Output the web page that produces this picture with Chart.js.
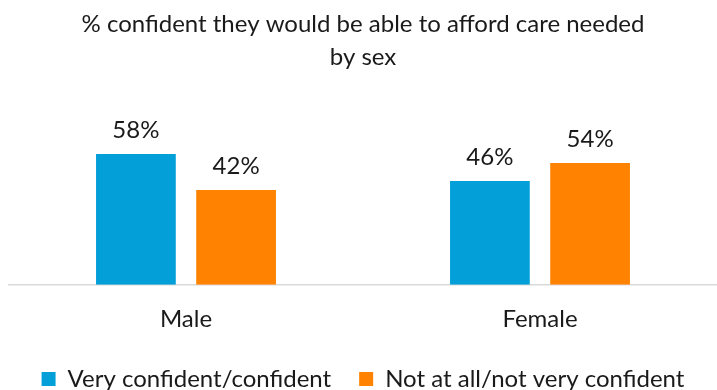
<!DOCTYPE html>
<html>
<head>
<meta charset="utf-8">
<script src="https://cdn.jsdelivr.net/npm/chart.js@4/dist/chart.umd.min.js"></script>
<style>
	html, body { margin: 0; padding: 0; background: #fff; }
	#wrap { width: 717px; height: 390px; }
</style>
</head>
<body>
<div id="wrap"><canvas id="sexChart" width="717" height="390"></canvas></div>
<script>
// survey results by sex
const categories = ["Male", "Female"];
const confident = [58, 46];
const notConfident = [42, 54];
const seriesNames = ["Very confident/confident", "Not at all/not very confident"];
const titleLines = ["% confident they would be able to afford care needed", "by sex"];

const FONT = "Lato";
const SIZE = 24;

// draws the value above each bar
const valueLabels = {
	id: "valueLabels",
	afterDatasetsDraw(chart) {
		const ctx = chart.ctx;
		ctx.save();
		ctx.font = SIZE + "px " + FONT;
		ctx.fillStyle = "#1a1a1a";
		ctx.textAlign = "center";
		ctx.textBaseline = "middle";
		chart.data.datasets.forEach((ds, i) => {
			chart.getDatasetMeta(i).data.forEach((bar, j) => {
				ctx.fillText(ds.data[j] + "%", bar.x, bar.y - 24);
			});
		});
		ctx.restore();
	},
};

var ctx = document.getElementById("sexChart").getContext("2d");
var myChart = new Chart(ctx, {
	type: "bar",
	data: {
		labels: categories,
		datasets: [
			{
				label: seriesNames[0],
				data: confident,
				backgroundColor: "#039fd9",
				categoryPercentage: 0.566,
				barPercentage: 0.796,
			},
			{
				label: seriesNames[1],
				data: notConfident,
				backgroundColor: "#ff8300",
				categoryPercentage: 0.566,
				barPercentage: 0.796,
			},
		],
	},
	options: {
		responsive: false,
		animation: false,
		layout: { padding: { left: 9, right: 0, top: 0, bottom: -11 } },
		plugins: {
			title: {
				display: true,
				text: titleLines,
				color: "#1a1a1a",
				font: { family: FONT, size: SIZE, weight: "normal", lineHeight: 1.375 },
				padding: { top: 7.5, bottom: 53.5 },
			},
			legend: {
				position: "bottom",
				labels: {
					color: "#1a1a1a",
					font: { family: FONT, size: SIZE },
					boxWidth: 14,
					boxHeight: 14,
					padding: 28,
				},
			},
			tooltip: { enabled: false },
		},
		scales: {
			x: {
				grid: { display: false },
				border: { display: true, color: "#d9d9d9", width: 1.5 },
				ticks: {
					color: "#1a1a1a",
					font: { family: FONT, size: SIZE },
					padding: 12,
				},
				afterFit(scale) {
					// pull the legend up closer to the category labels
					scale.height -= 6.5;
				},
			},
			y: {
				display: false,
				min: 0,
				max: 70,
			},
		},
	},
	plugins: [valueLabels],
});
</script>
</body>
</html>
